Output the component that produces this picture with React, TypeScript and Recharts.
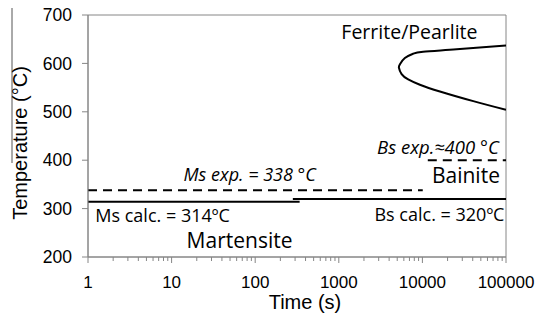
import React from "react";
import {
  ComposedChart,
  Line,
  XAxis,
  YAxis,
  ReferenceArea,
  ReferenceDot,
} from "recharts";

// transformation lines, time in s, temperature in °C
const msCalc = [
  { t: 1, T: 314 },
  { t: 340, T: 314 },
];
const bsCalc = [
  { t: 282, T: 320 },
  { t: 100000, T: 320 },
];
const msExp = [
  { t: 1, T: 338 },
  { t: 10100, T: 338 },
];
const bsExp = [
  { t: 11600, T: 400 },
  { t: 100000, T: 400 },
];
const ferritePearlite = [
  { t: 100000, T: 637 },
  { t: 25700, T: 629 },
  { t: 10200, T: 624 },
  { t: 7760, T: 620 },
  { t: 6170, T: 611 },
  { t: 5380, T: 598 },
  { t: 5240, T: 591 },
  { t: 5640, T: 578 },
  { t: 6760, T: 567 },
  { t: 9330, T: 556 },
  { t: 16200, T: 542 },
  { t: 40600, T: 522 },
  { t: 100000, T: 504 },
];

const decades = [1, 10, 100, 1000, 10000, 100000];
const tempTicks = [200, 300, 400, 500, 600, 700];

// labels written inside the plot, placed in data coordinates
const notes = [
  { t: 7000, T: 666, text: "Ferrite/Pearlite", size: 19.5, italic: false },
  { t: 65, T: 235, text: "Martensite", size: 21, italic: false },
  { t: 7.8, T: 287, text: "Ms calc. = 314ºC", size: 18, italic: false },
  { t: 86, T: 372, text: "Ms exp. = 338 °C", size: 18, italic: true },
  { t: 15350, T: 428, text: "Bs exp.≈400 °C", size: 18.5, italic: true },
  { t: 33200, T: 370, text: "Bainite", size: 21, italic: false },
  { t: 16000, T: 289, text: "Bs calc. = 320ºC", size: 18, italic: false },
];

const axisGray = "#868686";
const tickFont = "'Liberation Sans', Arial, sans-serif";
const noteFont = "'Open Sans', sans-serif";

// every 1..9 step of each decade gets a tick, only powers of ten get a label
const timeTicks: number[] = [];
decades.slice(0, -1).forEach((d) => {
  for (let m = 1; m < 10; m++) timeTicks.push(d * m);
});
timeTicks.push(100000);

const TimeTick = (props: any) => {
  const { x, y, payload } = props;
  const major = decades.includes(payload.value);
  return (
    <g>
      <line x1={x} x2={x} y1={y} y2={y + (major ? 6 : 4)} stroke={axisGray} />
      {major && (
        <text
          x={x}
          y={y + 25}
          textAnchor="middle"
          dominantBaseline="central"
          fontSize={17}
          fontFamily={tickFont}
          fill="#000"
        >
          {payload.value}
        </text>
      )}
    </g>
  );
};

const TempTitle = (props: any) => {
  const { viewBox } = props;
  const cx = viewBox.x + 20;
  const cy = viewBox.y + viewBox.height / 2 + 7;
  return (
    <g>
      <line x1={12} x2={12} y1={8} y2={163} stroke="#555" strokeWidth={1} />
      <text
        x={cx}
        y={cy}
        transform={`rotate(-90 ${cx} ${cy})`}
        textAnchor="middle"
        dominantBaseline="central"
        fontSize={20}
        fontFamily={tickFont}
        fill="#000"
      >
        Temperature (°C)
      </text>
    </g>
  );
};

const TimeTitle = (props: any) => {
  const { viewBox } = props;
  return (
    <text
      x={viewBox.x + viewBox.width / 2 + 8}
      y={viewBox.y + 45}
      textAnchor="middle"
      dominantBaseline="central"
      fontSize={20}
      fontFamily={tickFont}
      fill="#000"
    >
      Time (s)
    </text>
  );
};

const noteLabel = (text: string, size: number, italic: boolean) => (props: any) => {
  const { viewBox } = props;
  return (
    <text
      x={viewBox.x}
      y={viewBox.y}
      textAnchor="middle"
      dominantBaseline="central"
      fontSize={size}
      fontStyle={italic ? "italic" : "normal"}
      fontFamily={noteFont}
      fill="#000"
    >
      {text}
    </text>
  );
};

export default function App() {
  return (
    <div style={{ position: "fixed", left: 0, top: 0, background: "#fff" }}>
      <ComposedChart
        width={539}
        height={325}
        margin={{ top: 15, right: 33, bottom: 18, left: 0 }}
      >
        <XAxis
          dataKey="t"
          type="number"
          scale="log"
          domain={[1, 100000]}
          ticks={timeTicks}
          interval={0}
          allowDataOverflow
          height={50}
          stroke={axisGray}
          tickSize={0}
          tickMargin={0}
          tickLine={false}
          tick={<TimeTick />}
          label={{ content: <TimeTitle /> }}
        />
        <YAxis
          type="number"
          domain={[200, 700]}
          ticks={tempTicks}
          allowDataOverflow
          width={88}
          stroke={axisGray}
          tickSize={6}
          tickMargin={10}
          tick={{ fontSize: 17.5, fontFamily: tickFont, fill: "#000" }}
          label={{ content: <TempTitle /> }}
        />
        <ReferenceArea
          x1={1}
          x2={100000}
          y1={200}
          y2={700}
          fill="none"
          stroke={axisGray}
          strokeWidth={1}
        />
        <Line
          data={msExp}
          dataKey="T"
          type="linear"
          stroke="#000"
          strokeWidth={2}
          strokeDasharray="9 6"
          dot={false}
          isAnimationActive={false}
        />
        <Line
          data={bsExp}
          dataKey="T"
          type="linear"
          stroke="#000"
          strokeWidth={2}
          strokeDasharray="9 6"
          dot={false}
          isAnimationActive={false}
        />
        <Line
          data={msCalc}
          dataKey="T"
          type="linear"
          stroke="#000"
          strokeWidth={2}
          dot={false}
          isAnimationActive={false}
        />
        <Line
          data={bsCalc}
          dataKey="T"
          type="linear"
          stroke="#000"
          strokeWidth={2}
          dot={false}
          isAnimationActive={false}
        />
        <Line
          data={ferritePearlite}
          dataKey="T"
          type="natural"
          stroke="#000"
          strokeWidth={2}
          dot={false}
          isAnimationActive={false}
        />
        {notes.map((n) => (
          <ReferenceDot
            key={n.text}
            x={n.t}
            y={n.T}
            r={0}
            fill="none"
            stroke="none"
            label={{ content: noteLabel(n.text, n.size, n.italic) }}
          />
        ))}
      </ComposedChart>
    </div>
  );
}
